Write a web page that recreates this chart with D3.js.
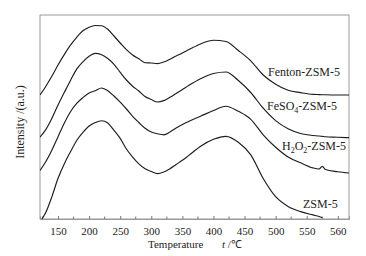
<!DOCTYPE html>
<html>
<head>
<meta charset="utf-8">
<script src="https://cdn.jsdelivr.net/npm/d3@7"></script>
<style>
    body { margin: 0; background: #fff; }
    text { font-family: "Liberation Serif", "Times New Roman", serif; fill: #222; }
</style>
</head>
<body>
<div id="tpd-chart"></div>
<script>

// TPD CURVES, 4 SAMPLES

const temperatures = [121, 130, 140, 150, 160, 170, 180, 190, 200, 210, 220, 230, 240, 250, 260, 270, 280, 290, 300, 310, 320, 330, 340, 350, 360,
    380, 400, 420, 440, 460, 480, 500, 520, 540, 560, 570, 575, 580, 600, 618];

const fentonValues = [124, 132.3, 142.7, 154, 164.4, 173.8, 181.7, 188.2, 191.8, 193.5, 193.2, 189.7, 183, 176, 169.3, 164, 160.2, 156.3, 156, 155.4, 157, 159.8, 163, 166, 169.2,
    175.3, 178.8, 177.5, 168.5, 158.2, 144, 134.8, 128.8, 126.4, 124.6, 124.4, 124.3, 124.2, 124, 124];

const feso4Values = [82, 89.1, 100.5, 114, 126.4, 138.6, 149.9, 157.2, 162.8, 165.6, 164.3, 160.5, 154.7, 146.7, 139, 132.8, 128, 122.5, 119.5, 117, 118.4, 121.7, 125.6, 129.4, 133.4,
    140.5, 145.5, 147, 138.5, 126.5, 110.8, 98.4, 90.2, 85.5, 83.5, 83, 82.6, 82.2, 81.8, 81.3];

const h2o2Values = [48.5, 57, 68.8, 82.3, 95.8, 107.3, 115.6, 121.4, 126, 128.3, 131, 128.3, 123, 116.8, 110, 102.7, 96.5, 90.7, 87, 85.3, 84.2, 87, 91, 94.4, 97.5,
    103, 108.5, 112.8, 107.7, 99.7, 84.2, 71.8, 62.1, 56.2, 51.1, 50, 52.7, 49.5, 47.2, 46];

const zsmValues = [-3, 6.2, 22.1, 40.7, 55.1, 67.2, 78.5, 86.6, 93, 96.5, 98.3, 96, 88.7, 80.6, 70, 61.9, 55.1, 50.2, 47.5, 45.4, 47, 50.2, 54.5, 58.7, 63.4,
    73, 79.7, 82.7, 76.8, 64.1, 40.5, 22.3, 12.6, 7.4, 4.1, 2.5, 1.5, null, null, null];

// tick at 600 is printed "560" in the original figure
const tickValues = [150, 200, 250, 300, 350, 400, 450, 500, 550, 600];
const tickLabels = ["150", "200", "250", "300", "350", "400", "450", "500", "550", "560"];
const minorTicks = [125, 175, 225, 275, 325, 375, 425, 475, 525, 575];

const seriesNames = ["Fenton-ZSM-5", "FeSO4-ZSM-5", "H2O2-ZSM-5", "ZSM-5"];


class TpdVis {

    constructor(_parentElement) {
        this.parentElement = _parentElement;
        this.initVis();
    }

    initVis() {
        let vis = this;

        vis.margin = {top: 15, right: 17, bottom: 37, left: 40};
        vis.width = 366 - vis.margin.left - vis.margin.right;
        vis.height = 256 - vis.margin.top - vis.margin.bottom;

        vis.svg = d3.select("#" + vis.parentElement).append("svg")
            .attr("width", 366)
            .attr("height", 256)
            .append("g")
            .attr("transform", "translate(" + vis.margin.left + "," + vis.margin.top + ")");

        vis.x = d3.scaleLinear()
            .domain([121, 618])
            .range([0, vis.width]);

        vis.y = d3.scaleLinear()
            .domain([0, 204])
            .range([vis.height, 0]);

        vis.svg.append("clipPath")
            .attr("id", "plot-clip")
            .append("rect")
            .attr("width", vis.width)
            .attr("height", vis.height);

        // frame
        vis.svg.append("rect")
            .attr("width", vis.width)
            .attr("height", vis.height)
            .attr("fill", "none")
            .attr("stroke", "#9a9a9a")
            .attr("stroke-width", 1);

        vis.wrangleData();
    }

    wrangleData() {
        let vis = this;

        let all = [fentonValues, feso4Values, h2o2Values, zsmValues];
        vis.displayData = all.map((vals, i) => ({
            name: seriesNames[i],
            points: temperatures.map((t, j) => ({t: t, v: vals[j]}))
        }));

        vis.updateVis();
    }

    updateVis() {
        let vis = this;

        // bottom axis, ticks pointing inward
        let xAxis = d3.axisBottom(vis.x)
            .tickValues(tickValues)
            .tickSize(-3)
            .tickPadding(8)
            .tickFormat((d, i) => tickLabels[i]);

        let gx = vis.svg.append("g")
            .attr("class", "x-axis axis")
            .attr("transform", "translate(0," + vis.height + ")")
            .call(xAxis);
        gx.select(".domain").attr("stroke", "#9a9a9a");
        gx.selectAll(".tick line").attr("stroke", "#777");
        gx.selectAll("text")
            .style("font-family", "Liberation Serif, serif")
            .style("font-size", "11px")
            .attr("fill", "#222")
            .attr("dy", "0.71em");

        vis.svg.append("g")
            .attr("class", "minor")
            .selectAll("line")
            .data(minorTicks)
            .enter().append("line")
            .attr("x1", d => vis.x(d))
            .attr("x2", d => vis.x(d))
            .attr("y1", vis.height)
            .attr("y2", vis.height - 2.5)
            .attr("stroke", "#777");

        // curves
        let line = d3.line()
            .defined(d => d.v != null)
            .x(d => vis.x(d.t))
            .y(d => vis.y(d.v))
            .curve(d3.curveMonotoneX);

        vis.svg.append("g")
            .attr("clip-path", "url(#plot-clip)")
            .selectAll("path")
            .data(vis.displayData)
            .enter().append("path")
            .attr("d", d => line(d.points))
            .attr("fill", "none")
            .attr("stroke", "#1c1c1c")
            .attr("stroke-width", 1.15);

        // curve labels
        let labels = vis.svg.append("g")
            .style("font-size", "12px");

        labels.append("text")
            .attr("x", 228).attr("y", 61)
            .text("Fenton-ZSM-5");

        let t2 = labels.append("text").attr("x", 227).attr("y", 95);
        t2.append("tspan").text("FeSO");
        t2.append("tspan").attr("dy", 3).style("font-size", "8px").text("4");
        t2.append("tspan").attr("dy", -3).text("-ZSM-5");

        let t3 = labels.append("text").attr("x", 242).attr("y", 135);
        t3.append("tspan").text("H");
        t3.append("tspan").attr("dy", 3).style("font-size", "8px").text("2");
        t3.append("tspan").attr("dy", -3).text("O");
        t3.append("tspan").attr("dy", 3).style("font-size", "8px").text("2");
        t3.append("tspan").attr("dy", -3).text("-ZSM-5");

        labels.append("text")
            .attr("x", 263).attr("y", 193)
            .text("ZSM-5");

        // axis titles
        let xt = vis.svg.append("text")
            .attr("y", vis.height + 29)
            .style("font-size", "11px");
        xt.append("tspan").attr("x", 108).text("Temperature");
        xt.append("tspan").attr("x", 182).style("font-style", "italic").text("t");
        xt.append("tspan").text(" /\u2103");

        vis.svg.append("text")
            .attr("transform", "translate(-16," + (vis.height / 2 + 5) + ") rotate(-90)")
            .attr("text-anchor", "middle")
            .style("font-size", "12px")
            .text("Intensity /(a.u.)");
    }
}

let tpdVis = new TpdVis("tpd-chart");

</script>
</body>
</html>
